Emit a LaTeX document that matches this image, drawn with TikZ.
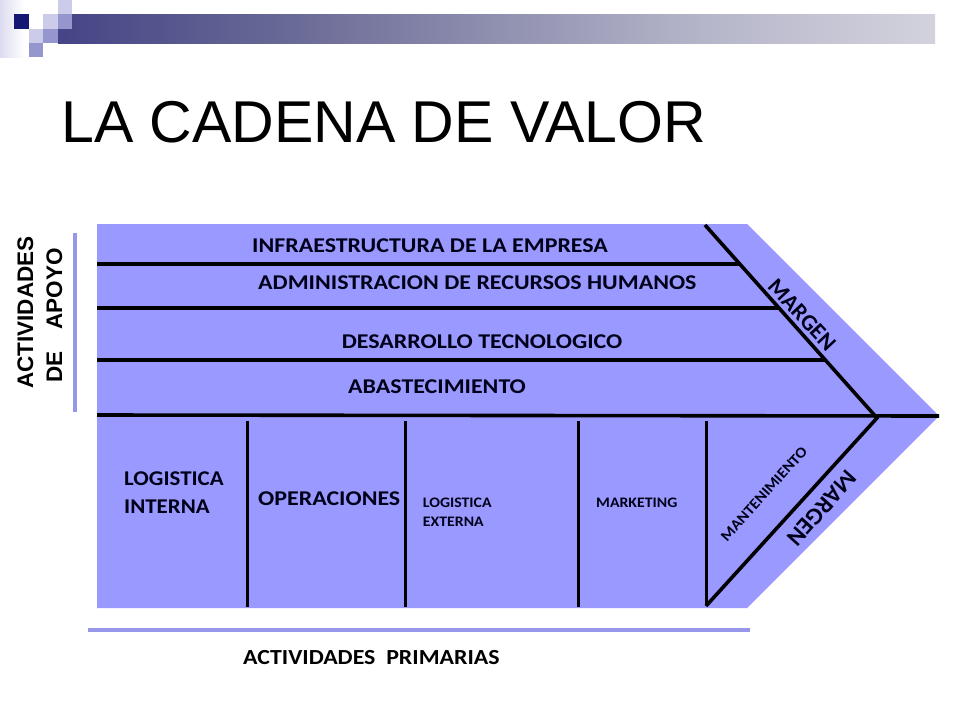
\documentclass[tikz,border=0pt]{standalone}
\usepackage{fontspec}
\setmainfont{Liberation Sans}
\newfontfamily\calfont{Carlito}
\definecolor{chev}{RGB}{153,153,255}
\definecolor{barc}{RGB}{150,150,235}
\definecolor{navy}{RGB}{22,22,116}
\definecolor{hdra}{RGB}{38,38,122}
\definecolor{hdrmid}{RGB}{105,105,150}
\definecolor{hdrlt}{RGB}{182,182,202}
\definecolor{hdrb}{RGB}{228,228,234}
\definecolor{hdrend}{RGB}{247,247,249}
\definecolor{sqlight}{RGB}{204,204,234}
\definecolor{sqmed}{RGB}{150,150,206}
\pgfdeclarehorizontalshading{hdr}{100bp}{color(0bp)=(navy); color(14bp)=(hdra); color(38bp)=(hdrmid); color(62bp)=(hdrlt); color(83bp)=(hdrb); color(100bp)=(hdrend)}
\newcommand{\widen}[2]{\scalebox{#1}[1]{#2}}
\begin{document}
\begin{tikzpicture}[x=1pt,y=-1pt,
  blk/.style={line width=3.6pt, black},
  dvd/.style={line width=3pt, black},
  big/.style={font=\calfont\bfseries\fontsize{21}{25}\selectfont, inner sep=0pt, text=black!90!blue},
  small/.style={font=\calfont\bfseries\fontsize{14.5}{19.3}\selectfont, inner sep=0pt, text=black!90!blue},
  side/.style={font=\bfseries\fontsize{22.5}{27}\selectfont, inner sep=0pt, rotate=90, anchor=base west}]
\useasboundingbox (0,0) rectangle (960,720);
\fill[white] (0,0) rectangle (960,720);
% header decoration
\shade[left color=sqlight!70, right color=white] (0,0) rectangle (24,57);
\shade[shading=hdr] (58,14) rectangle (935,43);
\fill[navy] (14,14) rectangle (29,29);
\fill[sqlight] (58,0) rectangle (72,14);
\fill[sqlight] (43,14) rectangle (58,29);
\fill[sqmed] (58,14) rectangle (72,29);
\fill[sqlight] (29,29) rectangle (43,43);
\fill[sqmed] (43,29) rectangle (58,43);
\fill[sqmed] (29,43) rectangle (43,57);
% title
\node[anchor=base west, inner sep=0pt, font=\fontsize{59}{70}\selectfont] (title) at (61,142.3) {LA CADENA DE VALOR};
% chevron body
\coordinate (tl) at (97,224);
\coordinate (tr) at (747,224);
\coordinate (tip) at (939,416);
\coordinate (br) at (747,608);
\coordinate (bl) at (97,608);
\fill[chev] (tl) -- (tr) -- (tip) -- (br) -- (bl) -- cycle;
% inner lines
\coordinate (d1) at (705,225);
\coordinate (dm) at (877,418);
\coordinate (d3) at (706,606);
\draw[blk] (97,264) -- (740,264);
\draw[blk] (97,308) -- (779,308);
\draw[blk] (97,360) -- (826,360);
\draw[blk] (97,415) -- (tip);
\draw[blk, line join=miter] (d1) -- (dm) -- (d3);
\draw[dvd] (247,421) -- (247,607);
\draw[dvd] (405,421) -- (405,607);
\draw[dvd] (578,421) -- (578,607);
\draw[dvd] (706,421) -- (d3);
% support activity labels
\node[big, anchor=base west] (infra) at (252,252) {\widen{1.14}{INFRAESTRUCTURA DE LA EMPRESA}};
\node[big, anchor=base west] (rrhh) at (258,289.5) {\widen{1.14}{ADMINISTRACION DE RECURSOS HUMANOS}};
\node[big, anchor=base west] (tec) at (341.7,348.3) {\widen{1.14}{DESARROLLO TECNOLOGICO}};
\node[big, anchor=base west] (abast) at (348,393.3) {\widen{1.14}{ABASTECIMIENTO}};
% primary activity labels
\node[big, anchor=base west] (li1) at (124,485) {\widen{1.09}{LOGISTICA}};
\node[big, anchor=base west] (li2) at (124,513) {\widen{1.09}{INTERNA}};
\node[big, anchor=base west] (ops) at (258,505) {\widen{1.14}{OPERACIONES}};
\node[small, anchor=base west] (le1) at (422.7,507.5) {\widen{1.09}{LOGISTICA}};
\node[small, anchor=base west] (le2) at (422.7,526) {\widen{1.09}{EXTERNA}};
\node[small, anchor=base west] (mkt) at (596,507) {\widen{1.09}{MARKETING}};
\node[small, rotate=48, font=\calfont\bfseries\fontsize{15}{18}\selectfont] (mant) at (764,494) {\widen{1.08}{MANTENIMIENTO}};
% margins
\node[big, rotate=-47, font=\calfont\bfseries\fontsize{23}{27}\selectfont] (m1) at (802,315) {MARGEN};
\node[big, rotate=-132, font=\calfont\bfseries\fontsize{24}{29}\selectfont] (m2) at (822,508) {MARGEN};
% side labels and bars
\fill[barc] (73,233) rectangle (77,412);
\node[side] (apoyo1) at (33,389) {ACTIVIDADES};
\node[side] (apoyo2) at (62,383) {DE\hspace{22pt}APOYO};
\fill[barc] (88,628) rectangle (750,632);
\node[anchor=base west, inner sep=0pt, font=\calfont\bfseries\fontsize{21.5}{25}\selectfont] (prim) at (243,664.5) {\widen{1.11}{ACTIVIDADES\ \ PRIMARIAS}};
\end{tikzpicture}
\end{document}
